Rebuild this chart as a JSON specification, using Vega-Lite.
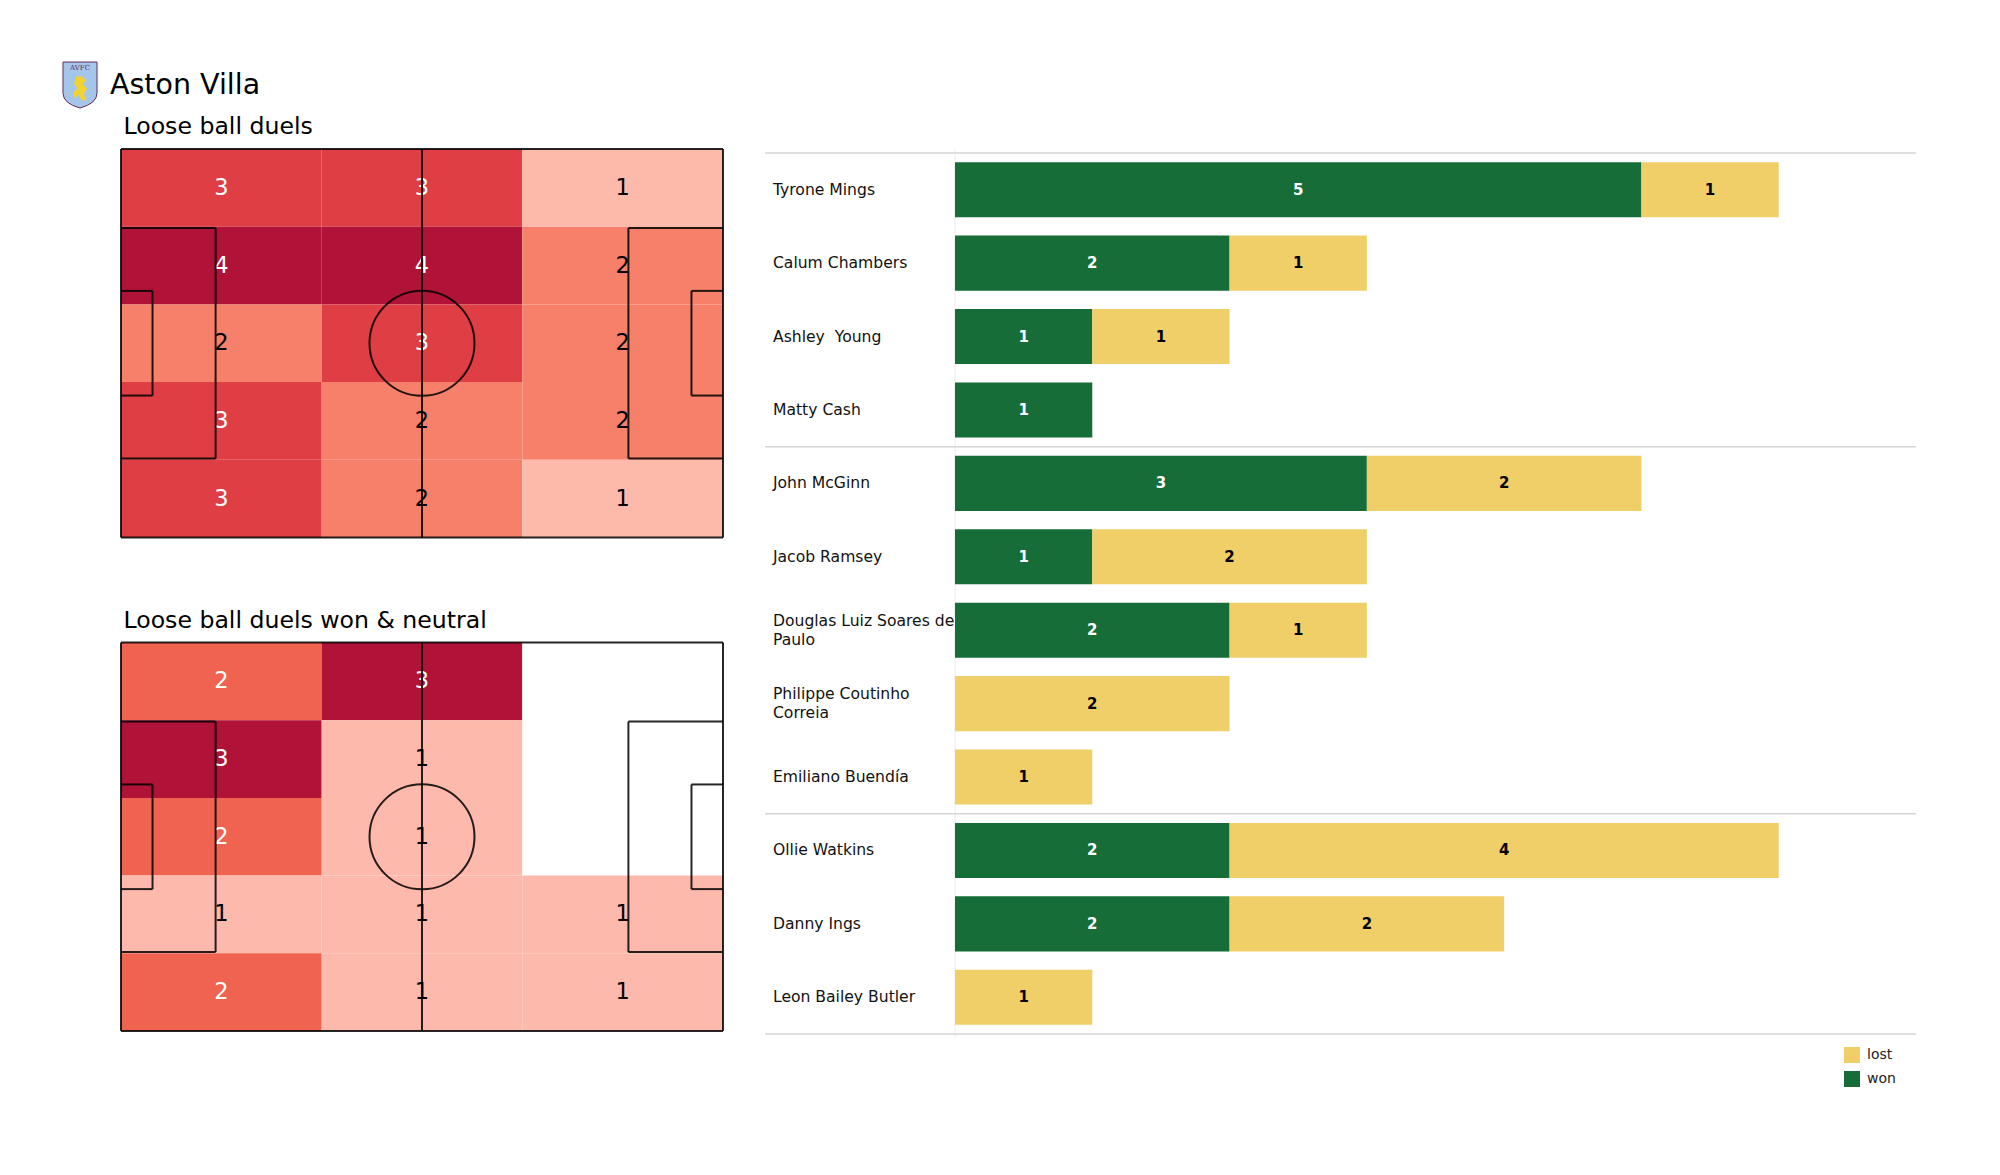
{
  "$schema": "https://vega.github.io/schema/vega-lite/v6.json",
  "background": "white",
  "padding": {"left": 60, "top": 60, "right": 20, "bottom": 20},
  "config": {"view": {"stroke": null}, "font": "DejaVu Sans"},
  "datasets": {
    "cells_all": [
      {"x0": 0, "x1": 35, "y0": 54.4, "y1": 68, "n": 3}, {"x0": 35, "x1": 70, "y0": 54.4, "y1": 68, "n": 3}, {"x0": 70, "x1": 105, "y0": 54.4, "y1": 68, "n": 1},
      {"x0": 0, "x1": 35, "y0": 40.8, "y1": 54.4, "n": 4}, {"x0": 35, "x1": 70, "y0": 40.8, "y1": 54.4, "n": 4}, {"x0": 70, "x1": 105, "y0": 40.8, "y1": 54.4, "n": 2},
      {"x0": 0, "x1": 35, "y0": 27.2, "y1": 40.8, "n": 2}, {"x0": 35, "x1": 70, "y0": 27.2, "y1": 40.8, "n": 3}, {"x0": 70, "x1": 105, "y0": 27.2, "y1": 40.8, "n": 2},
      {"x0": 0, "x1": 35, "y0": 13.6, "y1": 27.2, "n": 3}, {"x0": 35, "x1": 70, "y0": 13.6, "y1": 27.2, "n": 2}, {"x0": 70, "x1": 105, "y0": 13.6, "y1": 27.2, "n": 2},
      {"x0": 0, "x1": 35, "y0": 0, "y1": 13.6, "n": 3}, {"x0": 35, "x1": 70, "y0": 0, "y1": 13.6, "n": 2}, {"x0": 70, "x1": 105, "y0": 0, "y1": 13.6, "n": 1}
    ],
    "cells_won": [
      {"x0": 0, "x1": 35, "y0": 54.4, "y1": 68, "n": 2}, {"x0": 35, "x1": 70, "y0": 54.4, "y1": 68, "n": 3}, {"x0": 70, "x1": 105, "y0": 54.4, "y1": 68, "n": 0},
      {"x0": 0, "x1": 35, "y0": 40.8, "y1": 54.4, "n": 3}, {"x0": 35, "x1": 70, "y0": 40.8, "y1": 54.4, "n": 1}, {"x0": 70, "x1": 105, "y0": 40.8, "y1": 54.4, "n": 0},
      {"x0": 0, "x1": 35, "y0": 27.2, "y1": 40.8, "n": 2}, {"x0": 35, "x1": 70, "y0": 27.2, "y1": 40.8, "n": 1}, {"x0": 70, "x1": 105, "y0": 27.2, "y1": 40.8, "n": 0},
      {"x0": 0, "x1": 35, "y0": 13.6, "y1": 27.2, "n": 1}, {"x0": 35, "x1": 70, "y0": 13.6, "y1": 27.2, "n": 1}, {"x0": 70, "x1": 105, "y0": 13.6, "y1": 27.2, "n": 1},
      {"x0": 0, "x1": 35, "y0": 0, "y1": 13.6, "n": 2}, {"x0": 35, "x1": 70, "y0": 0, "y1": 13.6, "n": 1}, {"x0": 70, "x1": 105, "y0": 0, "y1": 13.6, "n": 1}
    ],
    "pitch_lines": [
      {"x": 0, "y": 0, "x2": 105, "y2": 0},
      {"x": 0, "y": 68, "x2": 105, "y2": 68},
      {"x": 0, "y": 0, "x2": 0, "y2": 68},
      {"x": 105, "y": 0, "x2": 105, "y2": 68},
      {"x": 52.5, "y": 0, "x2": 52.5, "y2": 68},
      {"x": 0, "y": 13.84, "x2": 16.5, "y2": 13.84},
      {"x": 0, "y": 54.16, "x2": 16.5, "y2": 54.16},
      {"x": 16.5, "y": 13.84, "x2": 16.5, "y2": 54.16},
      {"x": 88.5, "y": 13.84, "x2": 105, "y2": 13.84},
      {"x": 88.5, "y": 54.16, "x2": 105, "y2": 54.16},
      {"x": 88.5, "y": 13.84, "x2": 88.5, "y2": 54.16},
      {"x": 0, "y": 24.84, "x2": 5.5, "y2": 24.84},
      {"x": 0, "y": 43.16, "x2": 5.5, "y2": 43.16},
      {"x": 5.5, "y": 24.84, "x2": 5.5, "y2": 43.16},
      {"x": 99.5, "y": 24.84, "x2": 105, "y2": 24.84},
      {"x": 99.5, "y": 43.16, "x2": 105, "y2": 43.16},
      {"x": 99.5, "y": 24.84, "x2": 99.5, "y2": 43.16}
    ],
    "centre": [{"x": 52.5, "y": 34}],
    "players": [
      {"player": "Tyrone Mings", "label": "Tyrone Mings"},
      {"player": "Calum Chambers", "label": "Calum Chambers"},
      {"player": "Ashley  Young", "label": "Ashley \u00a0Young"},
      {"player": "Matty Cash", "label": "Matty Cash"},
      {"player": "John McGinn", "label": "John McGinn"},
      {"player": "Jacob Ramsey", "label": "Jacob Ramsey"},
      {"player": "Douglas Luiz Soares de Paulo", "label": "Douglas Luiz Soares de\nPaulo"},
      {"player": "Philippe Coutinho Correia", "label": "Philippe Coutinho\nCorreia"},
      {"player": "Emiliano Buendía", "label": "Emiliano Buendía"},
      {"player": "Ollie Watkins", "label": "Ollie Watkins"},
      {"player": "Danny Ings", "label": "Danny Ings"},
      {"player": "Leon Bailey Butler", "label": "Leon Bailey Butler"}
    ],
    "group_starts": [
      {"player": "Tyrone Mings"}, {"player": "John McGinn"}, {"player": "Ollie Watkins"}
    ],
    "duels": [
      {"player": "Tyrone Mings", "outcome": "won", "n": 5}, {"player": "Tyrone Mings", "outcome": "lost", "n": 1},
      {"player": "Calum Chambers", "outcome": "won", "n": 2}, {"player": "Calum Chambers", "outcome": "lost", "n": 1},
      {"player": "Ashley  Young", "outcome": "won", "n": 1}, {"player": "Ashley  Young", "outcome": "lost", "n": 1},
      {"player": "Matty Cash", "outcome": "won", "n": 1}, {"player": "Matty Cash", "outcome": "lost", "n": 0},
      {"player": "John McGinn", "outcome": "won", "n": 3}, {"player": "John McGinn", "outcome": "lost", "n": 2},
      {"player": "Jacob Ramsey", "outcome": "won", "n": 1}, {"player": "Jacob Ramsey", "outcome": "lost", "n": 2},
      {"player": "Douglas Luiz Soares de Paulo", "outcome": "won", "n": 2}, {"player": "Douglas Luiz Soares de Paulo", "outcome": "lost", "n": 1},
      {"player": "Philippe Coutinho Correia", "outcome": "won", "n": 0}, {"player": "Philippe Coutinho Correia", "outcome": "lost", "n": 2},
      {"player": "Emiliano Buendía", "outcome": "won", "n": 0}, {"player": "Emiliano Buendía", "outcome": "lost", "n": 1},
      {"player": "Ollie Watkins", "outcome": "won", "n": 2}, {"player": "Ollie Watkins", "outcome": "lost", "n": 4},
      {"player": "Danny Ings", "outcome": "won", "n": 2}, {"player": "Danny Ings", "outcome": "lost", "n": 2},
      {"player": "Leon Bailey Butler", "outcome": "won", "n": 0}, {"player": "Leon Bailey Butler", "outcome": "lost", "n": 1}
    ]
  },
  "bounds": "flush",
  "spacing": 42,
  "resolve": {"scale": {"x": "independent", "y": "independent", "color": "independent"}},
  "hconcat": [
    {
      "width": 602,
      "height": 882,
      "resolve": {"scale": {"y": "independent", "color": "independent"}},
      "layer": [
        {
          "data": {"name": "cells_all"},
          "mark": {"type": "rect"},
          "encoding": {
            "x": {"field": "x0", "type": "quantitative", "axis": null, "scale": {"domain": [0, 105], "nice": false, "zero": false}},
            "x2": {"field": "x1"},
            "y": {"field": "y0", "type": "quantitative", "axis": null, "scale": {"domain": [-86.4, 68], "nice": false, "zero": false}},
            "y2": {"field": "y1"},
            "color": {"field": "n", "type": "ordinal", "legend": null, "scale": {"domain": [1, 2, 3, 4], "range": ["#fdb9aa", "#f7806b", "#e03e45", "#b01238"]}}
          }
        },
        {
          "data": {"name": "cells_all"},
          "transform": [
            {"filter": "datum.n > 0"},
            {"calculate": "(datum.x0 + datum.x1) / 2", "as": "cx"},
            {"calculate": "(datum.y0 + datum.y1) / 2", "as": "cy"}
          ],
          "mark": {"type": "text", "fontSize": 22.5, "baseline": "middle"},
          "encoding": {
            "x": {"field": "cx", "type": "quantitative", "axis": null},
            "y": {"field": "cy", "type": "quantitative", "axis": null, "scale": {"domain": [-86.4, 68], "nice": false, "zero": false}},
            "text": {"field": "n", "type": "quantitative"},
            "color": {"condition": {"test": "datum.n >= 3", "value": "white"}, "value": "black"}
          }
        },
        {
          "data": {"name": "pitch_lines"},
          "mark": {"type": "rule", "color": "black", "strokeWidth": 2, "opacity": 0.85},
          "encoding": {
            "x": {"field": "x", "type": "quantitative", "axis": null},
            "x2": {"field": "x2"},
            "y": {"field": "y", "type": "quantitative", "axis": null, "scale": {"domain": [-86.4, 68], "nice": false, "zero": false}},
            "y2": {"field": "y2"}
          }
        },
        {
          "data": {"name": "centre"},
          "mark": {"type": "point", "shape": "circle", "size": 11025, "filled": false, "stroke": "black", "strokeWidth": 2, "opacity": 0.85},
          "encoding": {
            "x": {"field": "x", "type": "quantitative", "axis": null},
            "y": {"field": "y", "type": "quantitative", "axis": null, "scale": {"domain": [-86.4, 68], "nice": false, "zero": false}}
          }
        },
        {
          "data": {"values": [{"club": "Aston Villa"}]},
          "mark": {"type": "point", "shape": "M -0.74 -1 L 0.74 -1 L 0.74 0.35 Q 0.74 0.8 0 1 Q -0.74 0.8 -0.74 0.35 Z", "size": 2116, "filled": true, "fill": "#a3c6ea", "stroke": "#6b2a5c", "strokeWidth": 1, "opacity": 1},
          "encoding": {
            "x": {"datum": -7.15, "type": "quantitative", "axis": null},
            "y": {"datum": 79.2, "type": "quantitative", "axis": null, "scale": {"domain": [-86.4, 68], "nice": false, "zero": false}}
          }
        },
        {
          "data": {"values": [{"club": "Aston Villa"}]},
          "mark": {"type": "point", "shape": "M -0.3 -0.9 L 0.2 -0.9 L 0.45 -0.6 L 0.2 -0.3 L 0.55 0 L 0.3 0.4 L 0.5 0.9 L 0.1 0.9 L -0.1 0.45 L -0.4 0.75 L -0.55 0.35 L -0.2 0 L -0.45 -0.4 Z", "size": 700, "filled": true, "fill": "#f3d330", "strokeWidth": 0, "opacity": 1},
          "encoding": {
            "x": {"datum": -7.15, "type": "quantitative", "axis": null},
            "y": {"datum": 78.6, "type": "quantitative", "axis": null, "scale": {"domain": [-86.4, 68], "nice": false, "zero": false}}
          }
        },
        {
          "data": {"values": [{"badge": "AVFC"}]},
          "mark": {"type": "text", "fontSize": 7, "font": "DejaVu Serif", "color": "#6b2a5c", "baseline": "middle"},
          "encoding": {
            "x": {"datum": -7.15, "type": "quantitative", "axis": null},
            "y": {"datum": 82.2, "type": "quantitative", "axis": null, "scale": {"domain": [-86.4, 68], "nice": false, "zero": false}},
            "text": {"field": "badge"}
          }
        },
        {
          "data": {"values": [{"club": "Aston Villa"}]},
          "mark": {"type": "text", "fontSize": 28.5, "align": "left", "baseline": "alphabetic", "color": "black"},
          "encoding": {
            "x": {"datum": -1.92, "type": "quantitative", "axis": null},
            "y": {"datum": 77.6, "type": "quantitative", "axis": null, "scale": {"domain": [-86.4, 68], "nice": false, "zero": false}},
            "text": {"field": "club"}
          }
        },
        {
          "data": {"values": [{"heading": "Loose ball duels"}]},
          "mark": {"type": "text", "fontSize": 23.6, "align": "left", "baseline": "alphabetic", "color": "black"},
          "encoding": {
            "x": {"datum": 0.44, "type": "quantitative", "axis": null},
            "y": {"datum": 70.6, "type": "quantitative", "axis": null, "scale": {"domain": [-86.4, 68], "nice": false, "zero": false}},
            "text": {"field": "heading"}
          }
        },
        {
          "data": {"name": "cells_won"},
          "mark": {"type": "rect"},
          "encoding": {
            "x": {"field": "x0", "type": "quantitative", "axis": null},
            "x2": {"field": "x1"},
            "y": {"field": "y0", "type": "quantitative", "axis": null, "scale": {"domain": [0, 154.4], "nice": false, "zero": false}},
            "y2": {"field": "y1"},
            "color": {"field": "n", "type": "ordinal", "legend": null, "scale": {"domain": [0, 1, 2, 3], "range": ["#ffffff", "#fdb9ab", "#ef6350", "#b01238"]}}
          }
        },
        {
          "data": {"name": "cells_won"},
          "transform": [
            {"filter": "datum.n > 0"},
            {"calculate": "(datum.x0 + datum.x1) / 2", "as": "cx"},
            {"calculate": "(datum.y0 + datum.y1) / 2", "as": "cy"}
          ],
          "mark": {"type": "text", "fontSize": 22.5, "baseline": "middle"},
          "encoding": {
            "x": {"field": "cx", "type": "quantitative", "axis": null},
            "y": {"field": "cy", "type": "quantitative", "axis": null, "scale": {"domain": [0, 154.4], "nice": false, "zero": false}},
            "text": {"field": "n", "type": "quantitative"},
            "color": {"condition": {"test": "datum.n >= 2", "value": "white"}, "value": "black"}
          }
        },
        {
          "data": {"name": "pitch_lines"},
          "mark": {"type": "rule", "color": "black", "strokeWidth": 2, "opacity": 0.85},
          "encoding": {
            "x": {"field": "x", "type": "quantitative", "axis": null},
            "x2": {"field": "x2"},
            "y": {"field": "y", "type": "quantitative", "axis": null, "scale": {"domain": [0, 154.4], "nice": false, "zero": false}},
            "y2": {"field": "y2"}
          }
        },
        {
          "data": {"name": "centre"},
          "mark": {"type": "point", "shape": "circle", "size": 11025, "filled": false, "stroke": "black", "strokeWidth": 2, "opacity": 0.85},
          "encoding": {
            "x": {"field": "x", "type": "quantitative", "axis": null},
            "y": {"field": "y", "type": "quantitative", "axis": null, "scale": {"domain": [0, 154.4], "nice": false, "zero": false}}
          }
        },
        {
          "data": {"values": [{"heading": "Loose ball duels won & neutral"}]},
          "mark": {"type": "text", "fontSize": 23.6, "align": "left", "baseline": "alphabetic", "color": "black"},
          "encoding": {
            "x": {"datum": 0.44, "type": "quantitative", "axis": null},
            "y": {"datum": 70.6, "type": "quantitative", "axis": null, "scale": {"domain": [0, 154.4], "nice": false, "zero": false}},
            "text": {"field": "heading"}
          }
        }
      ]
    },
    {
      "width": 1151,
      "height": 889,
      "layer": [
        {
          "data": {"values": [{"baseline": 0}]},
          "mark": {"type": "rule", "color": "#ececec", "strokeWidth": 1},
          "encoding": {
            "x": {"field": "baseline", "type": "quantitative", "axis": null, "scale": {"domain": [-1.384, 7.0], "nice": false, "zero": false}}
          }
        },
        {
          "data": {"name": "group_starts"},
          "mark": {"type": "rule", "color": "#d6d6d6", "strokeWidth": 1.5},
          "encoding": {
            "y": {"field": "player", "type": "nominal", "bandPosition": 0, "axis": null, "scale": {"type": "band", "domain": ["Tyrone Mings", "Calum Chambers", "Ashley  Young", "Matty Cash", "John McGinn", "Jacob Ramsey", "Douglas Luiz Soares de Paulo", "Philippe Coutinho Correia", "Emiliano Buendía", "Ollie Watkins", "Danny Ings", "Leon Bailey Butler"], "paddingInner": 0, "paddingOuter": 0.0545}}
          }
        },
        {
          "data": {"values": [{"player": "Leon Bailey Butler"}]},
          "mark": {"type": "rule", "color": "#d6d6d6", "strokeWidth": 1.5},
          "encoding": {
            "y": {"field": "player", "type": "nominal", "bandPosition": 1, "axis": null}
          }
        },
        {
          "data": {"name": "duels"},
          "transform": [
            {"filter": "datum.n > 0"},
            {"stack": "n", "groupby": ["player"], "sort": [{"field": "outcome", "order": "descending"}], "as": ["n0", "n1"]}
          ],
          "mark": {"type": "bar", "height": {"band": 0.75}},
          "encoding": {
            "x": {"field": "n0", "type": "quantitative", "axis": null},
            "x2": {"field": "n1"},
            "y": {"field": "player", "type": "nominal", "axis": null},
            "color": {
              "field": "outcome", "type": "nominal",
              "scale": {"domain": ["lost", "won"], "range": ["#f0cf68", "#166d38"]},
              "legend": {"orient": "none", "legendX": 1079, "legendY": 898, "title": null, "symbolType": "square", "symbolSize": 256, "symbolStrokeWidth": 0, "labelFontSize": 14, "labelOffset": 7, "rowPadding": 8, "padding": 0, "labelColor": "#222222"}
            }
          }
        },
        {
          "data": {"name": "duels"},
          "transform": [
            {"filter": "datum.n > 0"},
            {"stack": "n", "groupby": ["player"], "sort": [{"field": "outcome", "order": "descending"}], "as": ["n0", "n1"]},
            {"calculate": "(datum.n0 + datum.n1) / 2", "as": "mid"}
          ],
          "mark": {"type": "text", "fontSize": 15, "fontWeight": "bold"},
          "encoding": {
            "x": {"field": "mid", "type": "quantitative", "axis": null},
            "y": {"field": "player", "type": "nominal", "axis": null},
            "text": {"field": "n", "type": "quantitative"},
            "color": {"condition": {"test": "datum.outcome === 'won'", "value": "white"}, "value": "black"}
          }
        },
        {
          "data": {"name": "players"},
          "transform": [{"filter": "indexof(datum.label, '\\n') < 0"}],
          "mark": {"type": "text", "align": "left", "baseline": "middle", "fontSize": 15.6, "color": "#111111"},
          "encoding": {
            "x": {"datum": -1.326, "type": "quantitative", "axis": null},
            "y": {"field": "player", "type": "nominal", "axis": null},
            "text": {"field": "label"}
          }
        },
        {
          "data": {"name": "players"},
          "transform": [{"filter": "indexof(datum.label, '\\n') >= 0"}],
          "mark": {"type": "text", "align": "left", "baseline": "middle", "fontSize": 15.6, "lineBreak": "\n", "lineHeight": 19, "dy": -9.5, "color": "#111111"},
          "encoding": {
            "x": {"datum": -1.326, "type": "quantitative", "axis": null},
            "y": {"field": "player", "type": "nominal", "axis": null},
            "text": {"field": "label"}
          }
        }
      ]
    }
  ]
}
